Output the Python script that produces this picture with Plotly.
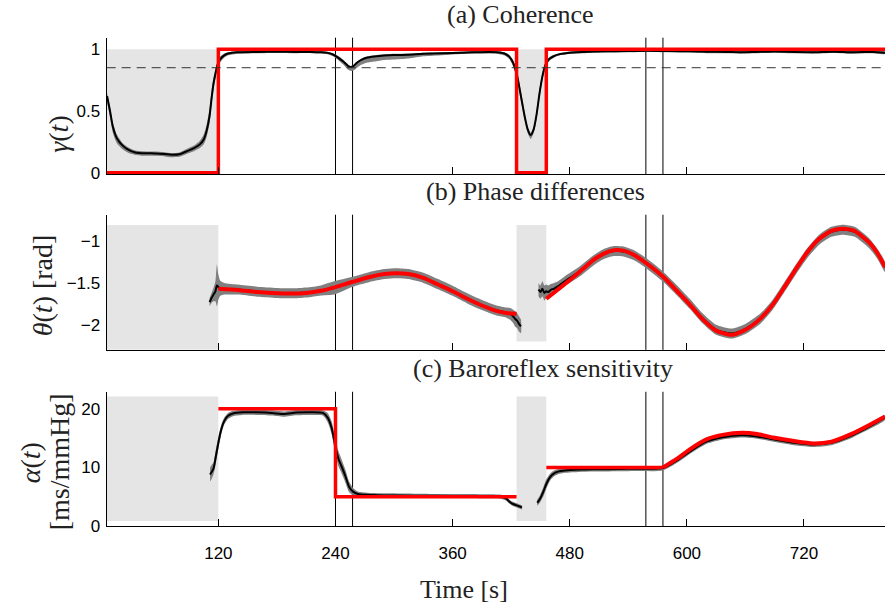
import plotly.graph_objects as go

# ---------------- time axis ----------------
T_MIN, T_MAX = 5.6, 803
t_ticks = [120, 240, 360, 480, 600, 720]
event_lines = [240, 257.5, 558, 575.5]
mask_spans = [(T_MIN, 120), (425.5, 456)]

# ---------------- (a) coherence ----------------
coh_threshold = 0.85
coh_true_t = [T_MIN, 120, 425.5, 456, 803]
coh_true_v = [0, 1, 0, 1, 1]

coh_t = [6, 9, 12, 16, 22, 28, 35, 45, 55, 65, 72, 80, 88, 95, 101, 105, 108, 111, 113, 115,
         117, 119, 122, 126, 130, 140, 160, 180, 200, 215, 225, 232, 238, 243, 248, 252, 255, 258, 262, 267,
         272, 280, 290, 300, 315, 330, 350, 370, 390, 405, 413, 418, 422, 426, 430, 434, 437, 440, 443, 446,
         449, 452, 455, 459, 464, 470, 480, 500, 520, 540, 560, 580, 600, 620, 640, 655, 670, 690, 710, 730,
         750, 770, 790, 803]
coh_est = [0.62, 0.50, 0.37, 0.28, 0.22, 0.185, 0.165, 0.158, 0.157, 0.152, 0.146, 0.150, 0.175, 0.200, 0.230, 0.270, 0.340, 0.460, 0.600, 0.720,
           0.800, 0.870, 0.920, 0.950, 0.965, 0.975, 0.978, 0.980, 0.978, 0.978, 0.975, 0.970, 0.955, 0.930, 0.900, 0.870, 0.855, 0.860, 0.890, 0.915,
           0.930, 0.940, 0.948, 0.952, 0.955, 0.962, 0.966, 0.972, 0.976, 0.975, 0.965, 0.940, 0.890, 0.790, 0.620, 0.450, 0.350, 0.305, 0.350, 0.470,
           0.640, 0.780, 0.870, 0.920, 0.945, 0.960, 0.972, 0.980, 0.983, 0.985, 0.987, 0.985, 0.983, 0.980, 0.978, 0.975, 0.978, 0.982, 0.978, 0.976,
           0.980, 0.975, 0.978, 0.972]
coh_lo = [0.05, 0.05, 0.05, 0.04, 0.03, 0.025, 0.02, 0.02, 0.02, 0.02, 0.02, 0.02, 0.02, 0.025, 0.03, 0.04, 0.05, 0.06, 0.06, 0.05,
          0.04, 0.03, 0.025, 0.02, 0.015, 0.012, 0.01, 0.01, 0.01, 0.01, 0.01, 0.012, 0.015, 0.02, 0.025, 0.03, 0.03, 0.035, 0.04, 0.04,
          0.04, 0.04, 0.035, 0.035, 0.03, 0.02, 0.015, 0.012, 0.012, 0.012, 0.015, 0.02, 0.03, 0.04, 0.04, 0.03, 0.03, 0.03, 0.03, 0.04,
          0.04, 0.03, 0.02, 0.015, 0.012, 0.01, 0.01, 0.01, 0.01, 0.01, 0.01, 0.01, 0.01, 0.012, 0.012, 0.012, 0.012, 0.01, 0.012, 0.012,
          0.01, 0.012, 0.012, 0.012]
coh_hi = [0.03, 0.03, 0.03, 0.03, 0.02, 0.02, 0.015, 0.015, 0.015, 0.015, 0.015, 0.015, 0.02, 0.02, 0.03, 0.04, 0.05, 0.06, 0.06, 0.05,
          0.04, 0.03, 0.02, 0.015, 0.01, 0.01, 0.01, 0.01, 0.01, 0.01, 0.01, 0.01, 0.01, 0.015, 0.015, 0.015, 0.01, 0.01, 0.01, 0.01,
          0.01, 0.01, 0.01, 0.01, 0.01, 0.01, 0.01, 0.01, 0.01, 0.01, 0.01, 0.015, 0.02, 0.03, 0.04, 0.03, 0.02, 0.02, 0.02, 0.03,
          0.04, 0.03, 0.02, 0.015, 0.01, 0.01, 0.01, 0.01, 0.01, 0.01, 0.01, 0.01, 0.01, 0.01, 0.01, 0.01, 0.01, 0.01, 0.01, 0.01,
          0.01, 0.01, 0.01, 0.01]

# ---------------- (b) phase differences ----------------
ph_true_t1 = [120, 140, 160, 180, 195, 210, 225, 240, 257, 275, 290, 302, 315, 330, 345, 360, 375, 390, 405, 415, 425.5]
ph_true_v1 = [-1.57, -1.585, -1.61, -1.625, -1.628, -1.62, -1.595, -1.55, -1.49, -1.43, -1.395, -1.385, -1.395, -1.44,
              -1.52, -1.60, -1.69, -1.77, -1.835, -1.86, -1.87]
ph_true_t2 = [456, 470, 490, 505, 515, 525, 535, 545, 559, 576, 590, 603, 615, 630, 646, 660, 675, 688, 700, 712,
              723, 735, 748, 760, 772, 787, 795, 803]
ph_true_v2 = [-1.69, -1.56, -1.37, -1.22, -1.15, -1.11, -1.115, -1.16, -1.27, -1.43, -1.60, -1.76, -1.92, -2.07, -2.12,
              -2.06, -1.93, -1.76, -1.55, -1.33, -1.14, -0.98, -0.88, -0.855, -0.88, -1.02, -1.14, -1.31]

ph_t1 = [111, 113, 115, 117, 118.5, 120, 122, 126, 140, 160, 180, 195, 210, 225, 240, 257, 275, 290, 302, 315,
         330, 345, 360, 375, 390, 405, 415, 419, 422, 424, 426, 428, 430]
ph_est1 = [-1.73, -1.68, -1.64, -1.60, -1.53, -1.55, -1.565, -1.57, -1.58, -1.605, -1.62, -1.625, -1.615, -1.59, -1.555,
           -1.49, -1.43, -1.395, -1.385, -1.395, -1.44, -1.515, -1.595, -1.685, -1.765, -1.83, -1.855, -1.87, -1.90,
           -1.93, -1.95, -1.99, -2.02]
ph_dev1 = [0.05, 0.06, 0.08, 0.12, 0.25, 0.15, 0.09, 0.07, 0.06, 0.06, 0.06, 0.06, 0.06, 0.06, 0.08,
           0.06, 0.06, 0.06, 0.06, 0.06, 0.06, 0.06, 0.06, 0.06, 0.06, 0.06, 0.06, 0.07, 0.08, 0.09,
           0.09, 0.09, 0.08]
ph_t2 = [448, 450, 452, 454, 456, 458, 461, 464, 468, 475, 490, 505, 515, 525, 535, 545, 559, 576, 590, 603,
         615, 630, 646, 660, 675, 688, 700, 712, 723, 735, 748, 760, 772, 787, 795, 803]
ph_est2 = [-1.58, -1.61, -1.57, -1.62, -1.60, -1.61, -1.58, -1.57, -1.54, -1.48, -1.365, -1.225, -1.155, -1.12, -1.125,
           -1.165, -1.27, -1.43, -1.59, -1.75, -1.91, -2.06, -2.105, -2.05, -1.93, -1.76, -1.55, -1.335, -1.15, -0.99,
           -0.89, -0.865, -0.89, -1.03, -1.15, -1.31]
ph_dev2 = [0.08, 0.08, 0.09, 0.09, 0.08, 0.08, 0.07, 0.07, 0.06, 0.06, 0.06, 0.06, 0.06, 0.06, 0.06,
           0.06, 0.06, 0.06, 0.06, 0.06, 0.06, 0.06, 0.06, 0.06, 0.06, 0.06, 0.06, 0.06, 0.06, 0.06,
           0.06, 0.06, 0.06, 0.06, 0.06, 0.06]

# ---------------- (c) baroreflex sensitivity ----------------
bs_step_t = [120, 240, 425.5]
bs_step_v = [20, 5, 5]
bs_flat_t = [456, 575.5]
bs_flat_v = [10, 10]
bs_curve_t = [575.5, 590, 603, 620, 638, 656, 672, 688.5, 710, 729.5, 748, 767, 787.5, 803]
bs_curve_v = [10, 11.5, 13.1, 14.8, 15.6, 15.9, 15.7, 15.1, 14.5, 14.1, 14.4, 15.6, 17.3, 18.7]

bs_t1 = [111.5, 113, 115, 117, 120, 123, 126, 130, 135, 145, 160, 175, 187, 200, 215, 227, 232, 236, 240, 243,
         246, 250, 254, 258, 263, 272, 290, 320, 360, 400, 410, 415, 418, 421, 425, 428, 431]
bs_est1 = [8.8, 9.2, 9.8, 11.5, 14.2, 16.5, 17.9, 18.8, 19.2, 19.4, 19.4, 19.3, 19.1, 19.35, 19.4, 19.3, 18.5, 16.8,
           13.5, 11.5, 10.3, 8.6, 6.7, 5.9, 5.5, 5.35, 5.25, 5.2, 5.15, 5.1, 5.0, 4.7, 4.2, 3.85, 3.6, 3.4, 3.2]
bs_dev1 = [1.2, 1.2, 1.0, 1.2, 1.0, 0.8, 0.6, 0.5, 0.45, 0.45, 0.45, 0.45, 0.45, 0.45, 0.45, 0.45, 0.8, 1.1, 1.3, 1.3,
           1.2, 1.1, 0.9, 0.6, 0.4, 0.35, 0.35, 0.35, 0.35, 0.35, 0.35, 0.35, 0.35, 0.35, 0.35, 0.35, 0.35]
bs_t2 = [446.7, 449, 453, 456, 460, 464, 468, 475, 490, 510, 530, 550, 575.5, 590, 603, 620, 638, 656, 672, 688.5,
         710, 729.5, 748, 767, 787.5, 803]
bs_est2 = [4.0, 4.5, 5.9, 7.2, 8.4, 9.0, 9.3, 9.5, 9.65, 9.7, 9.75, 9.8, 9.9, 11.2, 12.7, 14.4, 15.2, 15.5, 15.3, 14.8,
           14.2, 13.9, 14.2, 15.3, 17.0, 18.5]
bs_dev2 = [0.5, 0.6, 0.8, 0.8, 0.6, 0.5, 0.45, 0.4, 0.4, 0.4, 0.4, 0.4, 0.4, 0.4, 0.4, 0.4, 0.4, 0.4, 0.4, 0.4,
           0.4, 0.4, 0.4, 0.4, 0.4, 0.4]

# ---------------- styling ----------------
RED = "#ff0000"
EST = "#000000"
BAND = "rgb(128,128,128)"
MASK = "#e5e5e5"
SERIF = "Liberation Serif"
SANS = "Liberation Sans"

W, H = 885, 610
x_dom = [106.7 / W, 1.0]
panels = [  # pixel extents of each axes box, y range, ticks and shaded-band heights
    dict(top=38.3, bottom=177.2, yr=[-0.012, 1.093], ticks=[0, 0.5, 1], ttext=["0", "0.5", "1"],
         mask_y=[(0, 1), (0, 1)]),
    dict(top=218.3, bottom=355.7, yr=[-2.30, -0.686], ticks=[-2, -1.5, -1], ttext=["\u22122", "\u22121.5", "\u22121"],
         mask_y=[(-2.30, -0.81), (-2.20, -0.81)]),
    dict(top=398.3, bottom=535.0, yr=[0, 22.9], ticks=[0, 10, 20], ttext=["0", "10", "20"],
         mask_y=[(0.9, 22.1), (0.9, 22.1)]),
]

fig = go.Figure()


def axis_names(i):
    return ("x" if i == 0 else f"x{i + 1}"), ("y" if i == 0 else f"y{i + 1}")


def add_band(i, t, est, lo, hi):
    xa, ya = axis_names(i)
    upper = [e + h for e, h in zip(est, hi)]
    lower = [e - l for e, l in zip(est, lo)]
    fig.add_trace(go.Scatter(x=list(t) + list(t)[::-1], y=upper + lower[::-1], mode="lines",
                             fill="toself", fillcolor=BAND,
                             line=dict(width=0, shape="spline", smoothing=0.6, color=BAND),
                             hoverinfo="skip", xaxis=xa, yaxis=ya))


def add_line(i, t, v, color, width, shape="spline"):
    xa, ya = axis_names(i)
    line = dict(color=color, width=width, shape=shape)
    if shape == "spline":
        line["smoothing"] = 0.6
    fig.add_trace(go.Scatter(x=t, y=v, mode="lines", line=line, hoverinfo="skip", xaxis=xa, yaxis=ya))


# (a)
add_band(0, coh_t, coh_est, coh_lo, coh_hi)
add_line(0, coh_t, coh_est, EST, 2)
add_line(0, coh_true_t, coh_true_v, RED, 3.5, shape="hv")

# (b)
add_band(1, ph_t1, ph_est1, ph_dev1, ph_dev1)
add_band(1, ph_t2, ph_est2, ph_dev2, ph_dev2)
add_line(1, ph_t1, ph_est1, EST, 2)
add_line(1, ph_t2, ph_est2, EST, 2)
add_line(1, ph_true_t1, ph_true_v1, RED, 4)
add_line(1, ph_true_t2, ph_true_v2, RED, 4)

# (c)
add_band(2, bs_t1, bs_est1, bs_dev1, bs_dev1)
add_band(2, bs_t2, bs_est2, bs_dev2, bs_dev2)
add_line(2, bs_t1, bs_est1, EST, 2)
add_line(2, bs_t2, bs_est2, EST, 2)
add_line(2, bs_step_t, bs_step_v, RED, 3.5, shape="hv")
add_line(2, bs_flat_t, bs_flat_v, RED, 3.5, shape="linear")
add_line(2, bs_curve_t, bs_curve_v, RED, 4)

shapes = []
layout = dict(width=W, height=H, margin=dict(l=0, r=0, t=0, b=0), paper_bgcolor="white",
              plot_bgcolor="white", showlegend=False)

for i, p in enumerate(panels):
    xa, ya = axis_names(i)
    xkey = "xaxis" if i == 0 else f"xaxis{i + 1}"
    ykey = "yaxis" if i == 0 else f"yaxis{i + 1}"
    layout[xkey] = dict(domain=x_dom, range=[T_MIN, T_MAX], anchor=ya, showgrid=False, zeroline=False,
                        showline=True, linecolor="black", linewidth=1.2, ticks="inside", ticklen=7,
                        tickwidth=1, tickcolor="black", tickvals=t_ticks, ticklabelstandoff=11,
                        showticklabels=(i == 2), tickfont=dict(family=SANS, size=17, color="black"))
    layout[ykey] = dict(domain=[1 - p["bottom"] / H, 1 - p["top"] / H], range=p["yr"], anchor=xa,
                        showgrid=False, zeroline=False, showline=True, linecolor="black", linewidth=1.2,
                        ticks="", tickvals=p["ticks"], ticktext=p["ttext"], ticklabelstandoff=2,
                        tickfont=dict(family=SANS, size=17, color="black"))
    # masked (unreliable) intervals
    for (x0, x1), (y0, y1) in zip(mask_spans, p["mask_y"]):
        shapes.append(dict(type="rect", xref=xa, yref=ya, x0=x0, x1=x1, y0=y0, y1=y1,
                           fillcolor=MASK, line=dict(width=0), layer="below"))
    # event markers
    for xv in event_lines:
        shapes.append(dict(type="line", xref=xa, yref=f"{ya} domain", x0=xv, x1=xv, y0=0, y1=1,
                           line=dict(color="black", width=1), layer="below"))

# coherence significance threshold
shapes.append(dict(type="line", xref="x domain", yref="y", x0=0, x1=1, y0=coh_threshold, y1=coh_threshold,
                   line=dict(color="#333333", width=1, dash="9px,6px"), layer="above"))
layout["shapes"] = shapes


def px(xp, yp):
    return xp / W, 1 - yp / H


annotations = []
for text, (cx, cy) in [("(a) Coherence", (520.5, 14.5)),
                       ("(b) Phase differences", (535.5, 194.5)),
                       ("(c) Baroreflex sensitivity", (542.5, 374.5)),
                       ("Time [s]", (464, 599))]:
    ax_, ay_ = px(cx, cy)
    annotations.append(dict(text=text, x=ax_, y=ay_, xref="paper", yref="paper", xanchor="center",
                            yanchor="middle", showarrow=False, font=dict(family=SERIF, size=26, color="#222")))

for text, (cx, cy) in [("<i>\u03b3</i>(<i>t</i>)", (59, 137)),
                       ("<i>\u03b8</i>(<i>t</i>) [rad]", (42, 290)),
                       ("<i>\u03b1</i>(<i>t</i>)", (30, 471)),
                       ("[ms/mmHg]", (59, 470))]:
    ax_, ay_ = px(cx, cy)
    annotations.append(dict(text=text, x=ax_, y=ay_, xref="paper", yref="paper", xanchor="center",
                            yanchor="middle", textangle=-90, showarrow=False,
                            font=dict(family=SERIF, size=28, color="#222")))
layout["annotations"] = annotations

fig.update_layout(**layout)
fig.write_html("out.html")
